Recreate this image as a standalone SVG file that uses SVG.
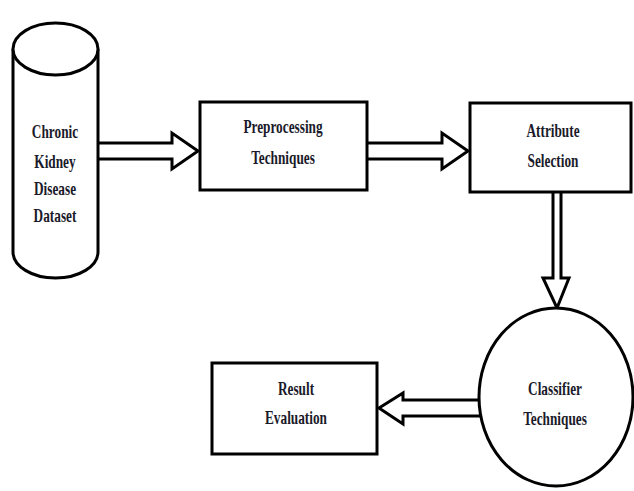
<svg xmlns="http://www.w3.org/2000/svg" width="634" height="491" viewBox="0 0 634 491">
<style>
.n{fill:#fff;stroke:#000;stroke-width:3}
.c{fill:#fff;stroke:#000;stroke-width:3;stroke-linejoin:miter}
.t{font-family:"Liberation Serif","Times New Roman",serif;font-weight:bold;font-size:19px;fill:#1a1a2a;text-anchor:middle}
</style>
<rect width="634" height="491" fill="#fff"/>
<g id="connectors">
<polygon class="c" points="96,143 172,143 172,133 198,151 172,169 172,159 96,159"/>
<polygon class="c" points="366,143 442,143 442,133 468,151 442,169 442,159 366,159"/>
<polygon class="c" points="553,190 561,190 561,278 569,278 557,308 543,278 553,278"/>
<polygon class="c" points="482,400 403,400 403,393 379,408 403,424 403,416 482,416"/>
</g>
<g id="dataset">
<path class="n" stroke-width="2" d="M13,49 L13,252 A42.5,26 0 0 0 98,252 L98,49"/>
<ellipse class="n" stroke-width="2" cx="55.5" cy="49" rx="42.5" ry="26"/>
<text class="t" transform="translate(55,138) scale(0.7,1)">Chronic</text>
<text class="t" transform="translate(55,168) scale(0.7,1)">Kidney</text>
<text class="t" transform="translate(55,195) scale(0.7,1)">Disease</text>
<text class="t" transform="translate(55,222) scale(0.7,1)">Dataset</text>
</g>
<g id="preprocessing">
<rect class="n" x="200" y="102" width="167" height="88"/>
<text class="t" transform="translate(283,133) scale(0.7,1)">Preprocessing</text>
<text class="t" transform="translate(283,164) scale(0.7,1)">Techniques</text>
</g>
<g id="attribute">
<rect class="n" x="470" y="103" width="161" height="89"/>
<text class="t" transform="translate(553,137) scale(0.7,1)">Attribute</text>
<text class="t" transform="translate(553,167) scale(0.7,1)">Selection</text>
</g>
<g id="classifier">
<ellipse class="n" cx="556" cy="397" rx="77" ry="89"/>
<text class="t" transform="translate(555,395) scale(0.7,1)">Classifier</text>
<text class="t" transform="translate(555,425) scale(0.7,1)">Techniques</text>
</g>
<g id="result">
<rect class="n" x="212" y="363" width="165" height="91"/>
<text class="t" transform="translate(296,395) scale(0.7,1)">Result</text>
<text class="t" transform="translate(296,424) scale(0.7,1)">Evaluation</text>
</g>
</svg>
